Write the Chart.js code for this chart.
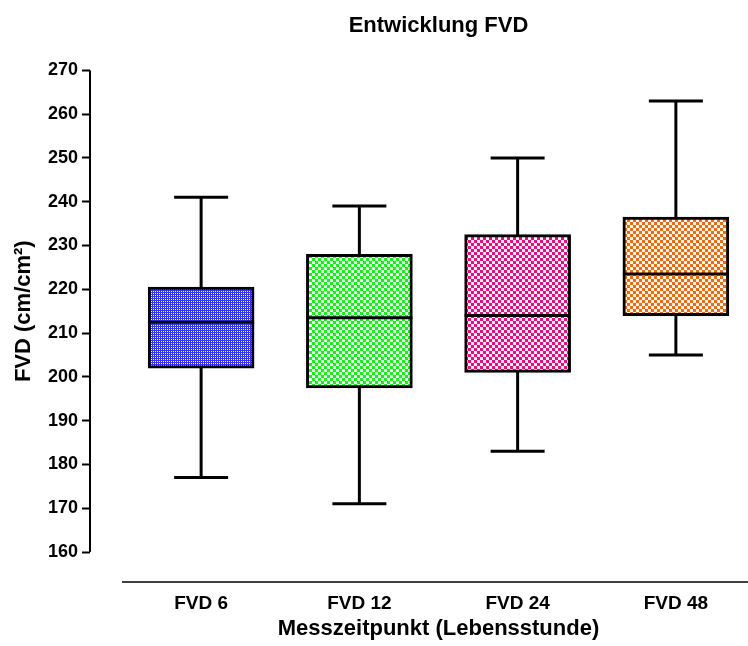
<!DOCTYPE html>
<html>
<head>
<meta charset="utf-8">
<script src="https://cdn.jsdelivr.net/npm/chart.js@4"></script>
<style>
  html, body { margin: 0; padding: 0; background: #fff; overflow: hidden; }
  canvas { display: block; }
</style>
</head>
<body>
<canvas id="chartFVD" width="760" height="646"></canvas>
<script>
// Daten
const kategorien = ['FVD 6', 'FVD 12', 'FVD 24', 'FVD 48'];
const minimum = [177, 171, 183, 205];
const q1 = [202, 197.5, 201, 214];
const median = [212.5, 213.5, 214, 223.5];
const q3 = [220.5, 228, 232.5, 236.5];
const maximum = [241, 239, 250, 263];
const yTicks = [160, 170, 180, 190, 200, 210, 220, 230, 240, 250, 260, 270];

// Schachbrett-Muster für die Boxen
function schachbrett(farbe, zelle) {
  const c = document.createElement('canvas');
  c.width = c.height = zelle * 2;
  const g = c.getContext('2d');
  g.fillStyle = '#ffffff';
  g.fillRect(0, 0, zelle * 2, zelle * 2);
  g.fillStyle = farbe;
  g.fillRect(0, 0, zelle, zelle);
  g.fillRect(zelle, zelle, zelle, zelle);
  return g.createPattern(c, 'repeat');
}

function punktMuster(farbe) {
  const c = document.createElement('canvas');
  c.width = c.height = 2;
  const g = c.getContext('2d');
  g.fillStyle = farbe;
  g.fillRect(0, 0, 2, 2);
  g.fillStyle = '#ffffff';
  g.fillRect(1, 1, 1, 1);
  return g.createPattern(c, 'repeat');
}

const muster = [
  punktMuster('#3333ff'),
  schachbrett('#00ff00', 3),
  schachbrett('#ff0080', 3),
  schachbrett('#ff6600', 3)
];

const schrift = 'Liberation Sans, Arial, sans-serif';

// Whisker, Median und Achsenlinien
const boxplotPlugin = {
  id: 'boxplot',
  beforeDatasetsDraw(chart) {
    const ctx = chart.ctx;
    const x = chart.scales.x, y = chart.scales.y;
    ctx.save();
    ctx.strokeStyle = '#000';
    ctx.lineWidth = 3;
    kategorien.forEach((k, i) => {
      const px = x.getPixelForValue(i);
      ctx.beginPath();
      ctx.moveTo(px, y.getPixelForValue(maximum[i]));
      ctx.lineTo(px, y.getPixelForValue(minimum[i]));
      ctx.stroke();
      [maximum[i], minimum[i]].forEach(v => {
        ctx.beginPath();
        ctx.moveTo(px - 27, y.getPixelForValue(v));
        ctx.lineTo(px + 27, y.getPixelForValue(v));
        ctx.stroke();
      });
    });
    ctx.restore();
  },
  afterDatasetsDraw(chart) {
    const ctx = chart.ctx;
    const x = chart.scales.x, y = chart.scales.y;
    ctx.save();
    ctx.strokeStyle = '#000';
    ctx.lineWidth = 3;
    kategorien.forEach((k, i) => {
      const px = x.getPixelForValue(i);
      const py = y.getPixelForValue(median[i]);
      ctx.beginPath();
      ctx.moveTo(px - 53, py);
      ctx.lineTo(px + 53, py);
      ctx.stroke();
    });
    ctx.restore();
  },
  afterDraw(chart) {
    const ctx = chart.ctx;
    const y = chart.scales.y;
    const area = chart.chartArea;
    ctx.save();
    ctx.strokeStyle = '#000';
    // y-Achse (abgesetzt)
    ctx.lineWidth = 2;
    ctx.beginPath();
    ctx.moveTo(y.right - 32, y.getPixelForValue(yTicks[yTicks.length - 1]));
    ctx.lineTo(y.right - 32, y.getPixelForValue(yTicks[0]));
    ctx.stroke();
    // x-Achse (abgesetzt)
    ctx.lineWidth = 1.5;
    ctx.beginPath();
    ctx.moveTo(area.left, area.bottom + 30);
    ctx.lineTo(area.right + 10, area.bottom + 30);
    ctx.stroke();
    ctx.restore();
  }
};

const ctx = document.getElementById('chartFVD').getContext('2d');
const chart = new Chart(ctx, {
  type: 'bar',
  data: {
    labels: kategorien,
    datasets: [{
      label: 'FVD',
      data: kategorien.map((k, i) => [q1[i], q3[i]]),
      backgroundColor: muster,
      borderColor: '#000',
      borderWidth: 3,
      borderSkipped: false,
      barThickness: 106
    }]
  },
  options: {
    responsive: false,
    animation: false,
    layout: { padding: { left: 0, right: 5, top: 0, bottom: 0 } },
    plugins: {
      legend: { display: false },
      tooltip: { enabled: false },
      title: {
        display: true,
        text: 'Entwicklung FVD',
        fullSize: false,
        color: '#000',
        font: { family: schrift, size: 22, weight: 'bold' },
        padding: { top: 13, bottom: 31 }
      }
    },
    scales: {
      x: {
        grid: { display: false, drawTicks: false },
        border: { display: false },
        ticks: {
          color: '#000',
          padding: 40,
          font: { family: schrift, size: 19, weight: 'bold' }
        },
        title: {
          display: true,
          text: 'Messzeitpunkt (Lebensstunde)',
          color: '#000',
          font: { family: schrift, size: 22, weight: 'bold' },
          padding: { top: 0, bottom: 4 }
        },
        afterFit(scale) { scale.height = 94; }
      },
      y: {
        min: 160,
        max: 270,
        afterBuildTicks(axis) { axis.ticks = yTicks.map(v => ({ value: v })); },
        grid: {
          drawOnChartArea: false,
          drawTicks: true,
          tickLength: 40,
          tickColor: '#000',
          tickWidth: 2,
          tickBorderDash: [8, 200]
        },
        border: { display: false },
        ticks: {
          color: '#000',
          padding: 4,
          font: { family: schrift, size: 18, weight: 'bold' }
        },
        title: {
          display: true,
          text: 'FVD (cm/cm²)',
          color: '#000',
          font: { family: schrift, size: 22, weight: 'bold' },
          padding: { top: 11, bottom: 0 }
        },
        afterFit(scale) { scale.width = 122; }
      }
    }
  },
  plugins: [boxplotPlugin]
});
</script>
</body>
</html>
